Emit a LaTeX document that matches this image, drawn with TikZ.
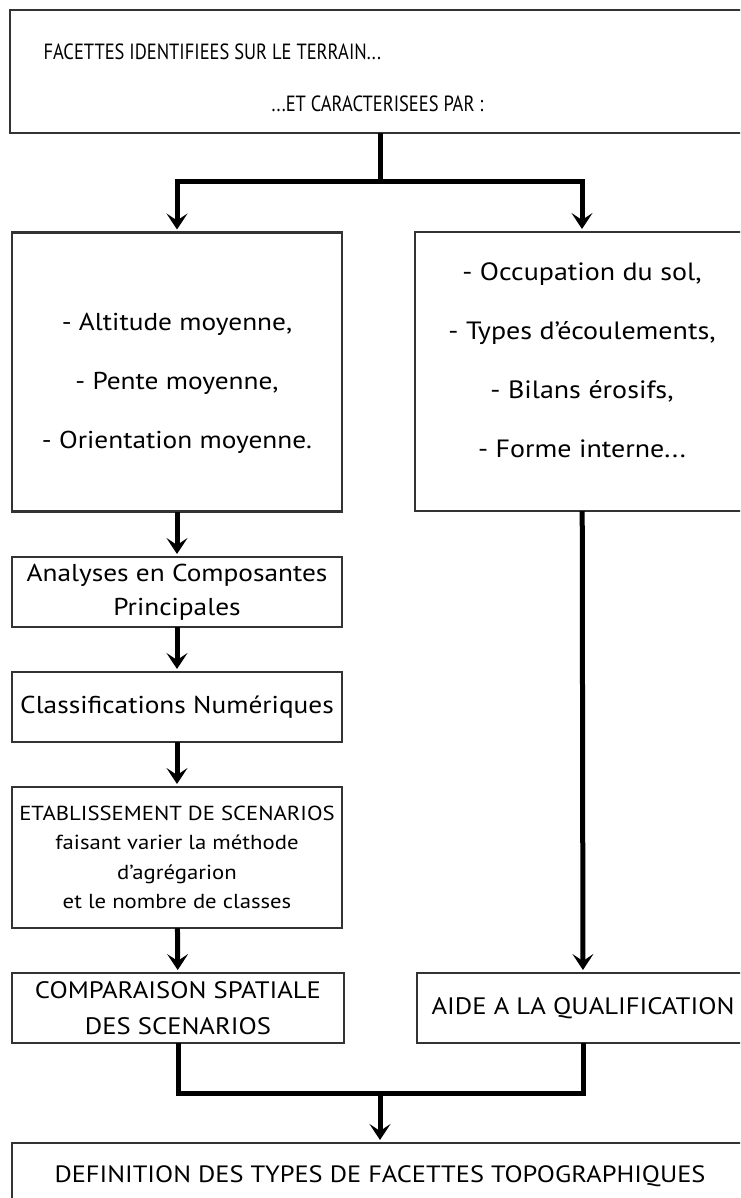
\documentclass[tikz,border=0pt]{standalone}
\usepackage{fontspec}
\setmainfont[FakeStretch=1.12]{PT Sans}
\newfontfamily\narrowfont[FakeStretch=0.84]{PT Sans}
\usetikzlibrary{arrows.meta}

\begin{document}
\begin{tikzpicture}[x=1pt,y=-1pt,
    box/.style={draw=black!80,line width=2.5pt,inner sep=0pt,outer sep=0pt,align=center},
    list/.style={align=center,inner sep=0pt,font=\fontsize{24.4}{29.5}\selectfont},
    link/.style={line width=5pt},
    arrow/.style={link,-{Stealth[length=16pt,width=21pt,inset=7pt]},shorten >=3pt}]
        \useasboundingbox (0,0) rectangle (740,1198);
        \clip (0,0) rectangle (740,1198);
        % boxes
        \node[box,minimum width=740pt,minimum height=123pt] (terrain) at (380,71.5){};
        \node[anchor=west,font=\narrowfont\fontsize{22}{26}\selectfont] (terrain1) at (40,52){FACETTES IDENTIFIEES SUR LE TERRAIN...};
        \node[anchor=east,font=\narrowfont\fontsize{22}{26}\selectfont] (terrain2) at (487,104){...ET CARACTERISEES PAR :};
        \node[box,minimum width=330pt,minimum height=279pt] (alt) at (177,372){};
        \node[list] (altlist) at (177,383)
            {- Altitude moyenne,\\[29.5pt] - Pente moyenne,\\[29.5pt] - Orientation moyenne.};
        \node[box,minimum width=334pt,minimum height=279pt] (occ) at (582,371.5){};
        \node[list,font=\fontsize{25}{29.5}\selectfont] (occlist) at (582,360)
            {- Occupation du sol,\\[29.5pt] - Types d'écoulements,\\[29.5pt] - Bilans érosifs,\\[29.5pt] - Forme interne...};
        \node[box,minimum width=330pt,minimum height=70pt,font=\fontsize{24.4}{34}\selectfont] (acp) at (177,592)
            {Analyses en Composantes\\Principales};
        \node[box,minimum width=330pt,minimum height=70pt,font=\fontsize{24.4}{34}\selectfont] (class) at (177,707)
            {Classifications Numériques};
        \node[box,minimum width=330pt,minimum height=141pt,font=\fontsize{20.3}{29.5}\selectfont] (scen) at (177,857.5)
            {ETABLISSEMENT DE SCENARIOS\\faisant varier la méthode\\d'agrégarion\\et le nombre de classes};
        \node[box,minimum width=332pt,minimum height=70pt,font=\fontsize{23.8}{36}\selectfont] (comp) at (178,1008)
            {COMPARAISON SPATIALE\\DES SCENARIOS};
        \node[box,minimum width=332pt,minimum height=70pt,font=\fontsize{23.8}{34}\selectfont] (aide) at (583,1008)
            {AIDE A LA QUALIFICATION};
        \node[box,minimum width=736pt,minimum height=66pt,font=\fontsize{23.6}{34}\selectfont] (defin) at (380,1176)
            {DEFINITION DES TYPES DE FACETTES TOPOGRAPHIQUES};
        % connectors
        \coordinate (split) at (380,182);
        \coordinate (merge) at (380,1093);
        \draw[link] (terrain.south) -- (split);
        \draw[arrow] (split) -| (alt.north);
        \draw[arrow] (split) -| (occ.north);
        \draw[arrow] (alt) -- (acp);
        \draw[arrow] (acp) -- (class);
        \draw[arrow] (class) -- (scen);
        \draw[arrow] (scen) -- (comp);
        \draw[arrow] (occ) -- (aide);
        \draw[link] (comp.south) |- (merge);
        \draw[link] (aide.south) |- (merge);
        \draw[arrow] (merge) -- (defin.north);
    \end{tikzpicture}
\end{document}
